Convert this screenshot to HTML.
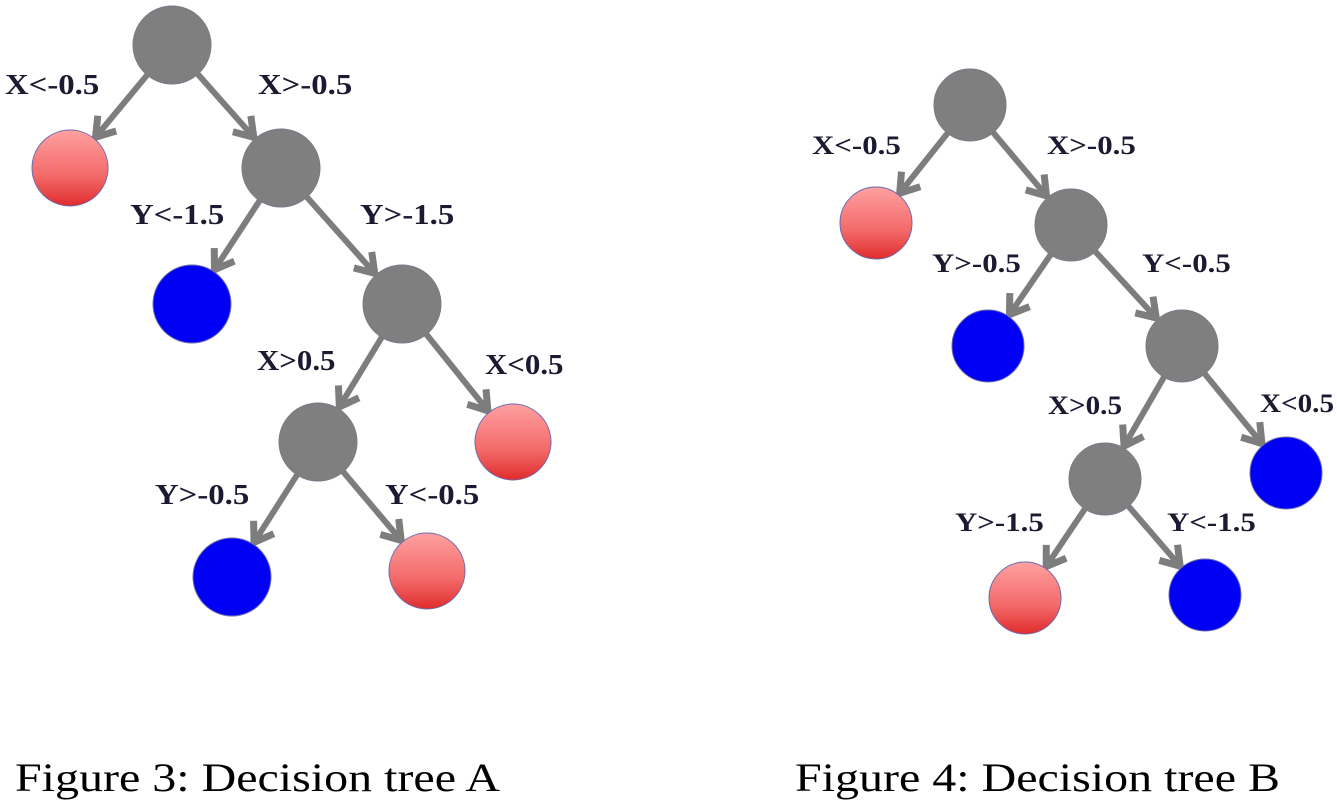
<!DOCTYPE html>
<html><head><meta charset="utf-8"><style>
html,body{margin:0;padding:0;background:#fff;}
body{width:1337px;height:803px;overflow:hidden;}
svg text{font-family:"Liberation Serif",serif;}
</style></head><body>
<svg id="s" width="1337" height="803" viewBox="0 0 1337 803">
<defs>
<linearGradient id="rg" x1="0" y1="0" x2="0" y2="1">
<stop offset="0" stop-color="#ffa0a0"/><stop offset="0.6" stop-color="#f36a6a"/><stop offset="1" stop-color="#e02c2c"/>
</linearGradient>
</defs>
<text x="15" y="791" font-size="40" textLength="485" lengthAdjust="spacingAndGlyphs" fill="#000">Figure 3: Decision tree A</text>
<text x="795" y="791" font-size="40" textLength="485" lengthAdjust="spacingAndGlyphs" fill="#000">Figure 4: Decision tree B</text>
</svg>
<script>
// Tree A
const nodesA = [
 {id:'root',x:172,y:45,r:39,c:'gray'},
 {id:'a1',x:70,y:168,r:38,c:'red'},
 {id:'a2',x:281,y:168,r:39,c:'gray'},
 {id:'a3',x:192,y:304,r:39,c:'blue'},
 {id:'a4',x:402,y:304,r:39,c:'gray'},
 {id:'a5',x:318,y:442,r:39,c:'gray'},
 {id:'a6',x:513,y:442,r:38,c:'red'},
 {id:'a7',x:232,y:577,r:39,c:'blue'},
 {id:'a8',x:427,y:571,r:38,c:'red'}
];
const edgesA = [['root','a1'],['root','a2'],['a2','a3'],['a2','a4'],['a4','a5'],['a4','a6'],['a5','a7'],['a5','a8']];
const labelsA = [
 {t:'X<-0.5',x:5,y:94},{t:'X>-0.5',x:258,y:94},{t:'Y<-1.5',x:130,y:224},{t:'Y>-1.5',x:360,y:224},
 {t:'X>0.5',x:257,y:370},{t:'X<0.5',x:485,y:374},{t:'Y>-0.5',x:155,y:504},{t:'Y<-0.5',x:385,y:504}
];
// Tree B
const nodesB = [
 {id:'root',x:970,y:105,r:36,c:'gray'},
 {id:'b1',x:876,y:223,r:36,c:'red'},
 {id:'b2',x:1071,y:225,r:36,c:'gray'},
 {id:'b3',x:988,y:346,r:36,c:'blue'},
 {id:'b4',x:1182,y:346,r:36,c:'gray'},
 {id:'b5',x:1105,y:479,r:36,c:'gray'},
 {id:'b6',x:1286,y:473,r:36,c:'blue'},
 {id:'b7',x:1025,y:598,r:36,c:'red'},
 {id:'b8',x:1205,y:595,r:36,c:'blue'}
];
const edgesB = [['root','b1'],['root','b2'],['b2','b3'],['b2','b4'],['b4','b5'],['b4','b6'],['b5','b7'],['b5','b8']];
const labelsB = [
 {t:'X<-0.5',x:812,y:154},{t:'X>-0.5',x:1047,y:154},{t:'Y>-0.5',x:932,y:272},{t:'Y<-0.5',x:1142,y:272},
 {t:'X>0.5',x:1048,y:414},{t:'X<0.5',x:1260,y:412},{t:'Y>-1.5',x:955,y:531},{t:'Y<-1.5',x:1167,y:531}
];
const NS='http://www.w3.org/2000/svg';
const svg=document.getElementById('s');
function mk(tag,attrs){const e=document.createElementNS(NS,tag);for(const k in attrs)e.setAttribute(k,attrs[k]);return e;}
function draw(nodes,edges,labels,tree,fs,cw){
 const m={};nodes.forEach(n=>m[n.id]=n);
 edges.forEach(([a,b])=>{
  const p=m[a],q=m[b];const dx=q.x-p.x,dy=q.y-p.y,L=Math.hypot(dx,dy),ux=dx/L,uy=dy/L;
  const x1=p.x+ux*p.r*0.8,y1=p.y+uy*p.r*0.8,x2=q.x-ux*(q.r+2),y2=q.y-uy*(q.r+2);
  const g=mk('g',{});
  
  
  g.appendChild(mk('line',{x1:x1,y1:y1,x2:x2,y2:y2,stroke:'#7d7d7d','stroke-width':6}));
  const hl=18,hw=12;
  const bx=x2-ux*hl,by=y2-uy*hl;
  g.appendChild(mk('polyline',{points:`${bx-uy*hw},${by+ux*hw} ${x2},${y2} ${bx+uy*hw},${by-ux*hw}`,fill:'none',stroke:'#7d7d7d','stroke-width':7,'stroke-linejoin':'miter'}));
  svg.appendChild(g);
 });
 nodes.forEach(n=>{
  const fill=n.c==='red'?'url(#rg)':(n.c==='blue'?'#0000f4':'#7f7f7f');
  const c=mk('circle',{cx:n.x,cy:n.y,r:n.r,fill:fill,stroke:n.c==='gray'?'#7a7a8a':'#6a6ab0','stroke-width':1});
  
  
  svg.appendChild(c);
 });
 labels.forEach(l=>{
  const t=mk('text',{x:l.x,y:l.y,'font-size':fs,'font-weight':'bold',fill:'#1a1a30',textLength:l.t.length*cw,lengthAdjust:'spacingAndGlyphs'});
  t.textContent=l.t;
  
  
  svg.appendChild(t);
 });
}
draw(nodesA,edgesA,labelsA,'tree-a',28,15.7);
draw(nodesB,edgesB,labelsB,'tree-b',26,14.8);
</script>
</body></html>
